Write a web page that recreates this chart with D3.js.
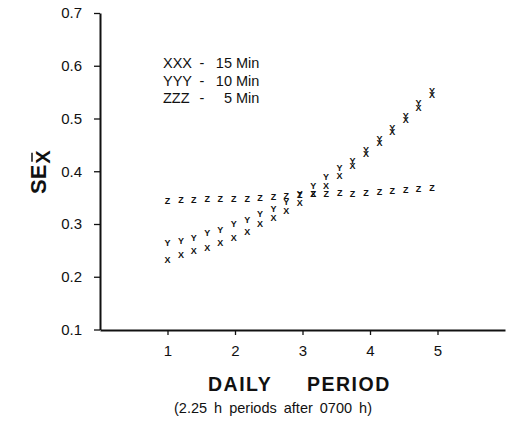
<!DOCTYPE html>
<html>
<head>
<meta charset="utf-8">
<script src="https://cdn.jsdelivr.net/npm/d3@7"></script>
<style>
  body { margin: 0; background: #fff; }
  text { font-family: "Liberation Sans", Arial, sans-serif; fill: #111; }
</style>
</head>
<body>
<div id="chart"></div>
<script>
// daily period positions of the plotted points
const periods = [1.00, 1.20, 1.39, 1.59, 1.78, 1.98, 2.18, 2.37, 2.57, 2.76, 2.96,
                 3.16, 3.35, 3.55, 3.74, 3.94, 4.14, 4.33, 4.53, 4.72, 4.92];

// SE of mean per sampling interval
const se15 = [0.232, 0.242, 0.249, 0.255, 0.264, 0.274, 0.285, 0.300, 0.312, 0.325, 0.340,
              0.358, 0.373, 0.392, 0.411, 0.434, 0.454, 0.474, 0.498, 0.521, 0.545];
const se10 = [0.264, 0.268, 0.274, 0.283, 0.290, 0.300, 0.308, 0.320, 0.329, 0.342, 0.358,
              0.373, 0.389, 0.407, 0.419, 0.440, 0.462, 0.482, 0.506, 0.529, 0.553];
const se5  = [0.345, 0.346, 0.346, 0.347, 0.347, 0.348, 0.348, 0.349, 0.351, 0.354, 0.356,
              0.357, 0.357, 0.359, 0.358, 0.360, 0.362, 0.363, 0.364, 0.366, 0.369];

const series = [
    { mark: "X", values: se15, label: "XXX", num: "15" },
    { mark: "Y", values: se10, label: "YYY", num: "10" },
    { mark: "Z", values: se5,  label: "ZZZ", num: "5" }
];

const yTicks = [0.1, 0.2, 0.3, 0.4, 0.5, 0.6, 0.7];
const xTicks = [1, 2, 3, 4, 5];

const width = 509, height = 427;

const svg = d3.select("#chart")
    .append("svg")
    .attr("width", width)
    .attr("height", height);

const x = d3.scaleLinear().domain([0, 6]).range([100, 505]);
const y = d3.scaleLinear().domain([0.1, 0.7]).range([329.5, 13]);

// axes
const yAxis = svg.append("g")
    .attr("transform", "translate(100,0)")
    .call(d3.axisLeft(y).tickValues(yTicks).tickSize(6).tickSizeOuter(0).tickPadding(12)
        .tickFormat(d3.format(".1f")));

const xAxis = svg.append("g")
    .attr("transform", "translate(0,330)")
    .call(d3.axisBottom(x).tickValues(xTicks).tickSize(5).tickSizeOuter(0).tickPadding(10)
        .tickFormat(d3.format("d")));

[yAxis, xAxis].forEach(g => {
    g.select(".domain").attr("stroke", "#111").attr("stroke-width", 2);
    g.selectAll(".tick line").attr("stroke", "#111").attr("stroke-width", 1.3);
    g.selectAll(".tick text")
        .attr("font-family", "Liberation Sans, Arial, sans-serif")
        .attr("font-size", "15px")
        .attr("fill", "#111");
});

// points drawn as letters
series.forEach(s => {
    svg.append("g").selectAll("text")
        .data(s.values)
        .enter()
        .append("text")
        .attr("x", (d, i) => x(periods[i]))
        .attr("y", d => y(d))
        .attr("dy", "0.36em")
        .attr("text-anchor", "middle")
        .attr("font-size", "9px")
        .attr("font-weight", "bold")
        .text(s.mark);
});

// legend
const legend = svg.append("g").attr("font-size", "14.5px");
series.forEach((s, i) => {
    const by = 68 + i * 17.5;
    legend.append("text").attr("x", 163).attr("y", by).text(s.label);
    legend.append("text").attr("x", 202).attr("y", by).attr("text-anchor", "middle").text("-");
    legend.append("text").attr("x", 232).attr("y", by).attr("text-anchor", "end").text(s.num);
    legend.append("text").attr("x", 236).attr("y", by).text("Min");
});

// y axis title: SE with x-bar subscript
const yt = svg.append("g").attr("transform", "translate(46,194) rotate(-90)");
const se = yt.append("text")
    .attr("x", 0).attr("y", 0)
    .attr("font-size", "22px")
    .attr("font-weight", "bold")
    .text("SE");
const w = se.node().getComputedTextLength();
yt.append("text")
    .attr("x", w + 1).attr("y", 4)
    .attr("font-size", "20px")
    .attr("font-weight", "bold")
    .text("X");
yt.append("line")
    .attr("x1", w + 3).attr("x2", w + 12)
    .attr("y1", -14).attr("y2", -14)
    .attr("stroke", "#111").attr("stroke-width", 1.5);

// x axis titles
svg.append("text")
    .attr("x", 208).attr("y", 391)
    .attr("font-size", "19.5px")
    .attr("font-weight", "bold")
    .attr("letter-spacing", "1.5px")
    .text("DAILY");
svg.append("text")
    .attr("x", 307).attr("y", 391)
    .attr("font-size", "19.5px")
    .attr("font-weight", "bold")
    .attr("letter-spacing", "1.5px")
    .text("PERIOD");
svg.append("text")
    .attr("x", 174).attr("y", 413)
    .attr("font-size", "14.5px")
    .attr("word-spacing", "3px")
    .text("(2.25 h periods after 0700 h)");
</script>
</body>
</html>
